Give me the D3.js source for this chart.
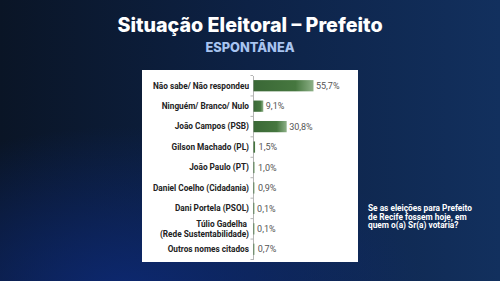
<!DOCTYPE html>
<html><head><meta charset="utf-8">
<script src="https://cdn.jsdelivr.net/npm/d3@7"></script>
<style>html,body{margin:0;padding:0;background:#0b1a33;}svg{display:block}</style>
</head><body>
<svg id="c" width="500" height="281"></svg>
<script>
const categories = [
  ["Não sabe/ Não respondeu"],
  ["Ninguém/ Branco/ Nulo"],
  ["João Campos (PSB)"],
  ["Gilson Machado (PL)"],
  ["João Paulo (PT)"],
  ["Daniel Coelho (Cidadania)"],
  ["Dani Portela (PSOL)"],
  ["Túlio Gadelha", "(Rede Sustentabilidade)"],
  ["Outros nomes citados"]
];
const values = [55.7, 9.1, 30.8, 1.5, 1.0, 0.9, 0.1, 0.1, 0.7];
const valueLabels = ["55,7%", "9,1%", "30,8%", "1,5%", "1,0%", "0,9%", "0,1%", "0,1%", "0,7%"];
const title = "Situação Eleitoral – Prefeito";
const subtitle = "ESPONTÂNEA";
const question = ["Se as eleições para Prefeito", "de Recife fossem hoje, em", "quem o(a) Sr(a) votaria?"];

const svg = d3.select("#c");
const defs = svg.append("defs");
const bg = defs.append("linearGradient").attr("id","bg").attr("x1","0").attr("y1","0").attr("x2","1").attr("y2","0");
bg.append("stop").attr("offset","0").attr("stop-color","#0a1526");
bg.append("stop").attr("offset","0.5").attr("stop-color","#0d2246");
bg.append("stop").attr("offset","1").attr("stop-color","#12305e");
const glow = defs.append("radialGradient").attr("id","glow").attr("cx","0.25").attr("cy","1.05").attr("r","0.6");
glow.append("stop").attr("offset","0").attr("stop-color","#0d2a78").attr("stop-opacity",0.9);
glow.append("stop").attr("offset","1").attr("stop-color","#0d2a78").attr("stop-opacity",0);
const bar = defs.append("linearGradient").attr("id","bar").attr("x1","0").attr("y1","0").attr("x2","1").attr("y2","0");
bar.append("stop").attr("offset","0").attr("stop-color","#3a6836");
bar.append("stop").attr("offset","0.7").attr("stop-color","#46773f");
bar.append("stop").attr("offset","1").attr("stop-color","#8db087");

svg.append("rect").attr("width",500).attr("height",281).attr("fill","url(#bg)");
svg.append("rect").attr("width",500).attr("height",281).attr("fill","url(#glow)");

svg.append("text").attr("x",250).attr("y",32).attr("text-anchor","middle")
  .attr("font-family","Inter, Roboto, sans-serif").attr("font-weight",800).attr("font-size",19.7)
  .attr("fill","#ffffff").text(title);
svg.append("text").attr("x",250).attr("y",52).attr("text-anchor","middle")
  .attr("font-family","Inter, Roboto, sans-serif").attr("font-weight",800).attr("font-size",12.8)
  .attr("fill","#a8c4f0").text(subtitle);

// panel
svg.append("rect").attr("x",142).attr("y",70).attr("width",216).attr("height",192).attr("fill","#ffffff");

const x0 = 253;
const x = d3.scaleLinear().domain([0,100]).range([x0, x0+107.7]);
const y = d3.scaleBand().domain(d3.range(values.length)).range([75.5,259.5]).paddingInner(0.45).paddingOuter(0.225);

const g = svg.append("g");
const axis = d3.axisLeft(y).tickSize(0).tickFormat("");
g.append("g").attr("transform",`translate(${x0},0)`).call(axis)
  .call(s=>s.select(".domain").attr("stroke","#b5b5b5").attr("stroke-width",1));
const step = y.step();
g.selectAll("line.bt").data(d3.range(values.length+1)).enter().append("line")
  .attr("x1",x0-2.5).attr("x2",x0).attr("y1",i=>75.5+i*step).attr("y2",i=>75.5+i*step)
  .attr("stroke","#b5b5b5").attr("stroke-width",1);

g.selectAll("rect.b").data(values).enter().append("rect")
  .attr("x",x0+0.5).attr("y",(d,i)=>y(i))
  .attr("width",d=>Math.max(x(d)-x0,1)).attr("height",y.bandwidth())
  .attr("fill","url(#bar)");

g.selectAll("text.v").data(values).enter().append("text")
  .attr("x",d=>x(d)+ (d<2?4:3)).attr("y",(d,i)=>y(i)+y.bandwidth()/2).attr("dy","0.35em")
  .attr("font-family","Roboto, sans-serif").attr("font-size",9).attr("fill","#555")
  .text((d,i)=>valueLabels[i]);

const lab = g.selectAll("text.l").data(categories).enter().append("text")
  .attr("x",249).attr("y",(d,i)=>y(i)+y.bandwidth()/2)
  .attr("text-anchor","end")
  .attr("font-family","Roboto, sans-serif").attr("font-weight",700).attr("font-size",8.25).attr("fill","#222");
lab.each(function(d){
  const t = d3.select(this);
  const n = d.length;
  d.forEach((s,k)=>{
    t.append("tspan").attr("x",k===0 && n>1 ? 247 : 249).attr("dy", k===0 ? (0.35 - (n-1)*0.6)+"em" : "1.2em").text(s);
  });
});

const q = svg.append("text").attr("x",368).attr("y",211)
  .attr("font-family","Roboto, sans-serif").attr("font-weight",700).attr("font-size",8.3).attr("fill","#ffffff");
question.forEach((s,k)=>q.append("tspan").attr("x",368).attr("dy",k===0?0:"1.05em").text(s));
</script>
</body></html>
